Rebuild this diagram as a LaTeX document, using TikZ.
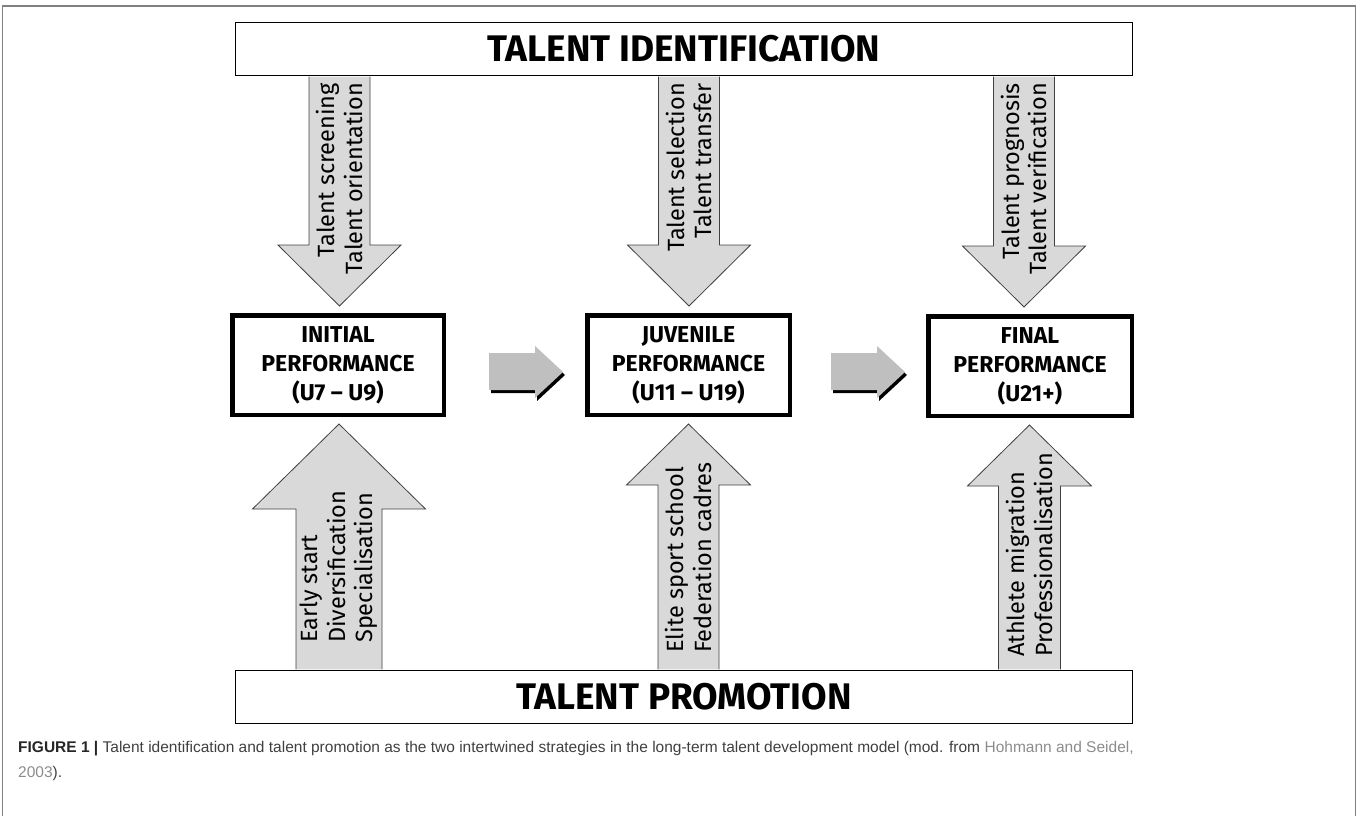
\documentclass[tikz,border=0pt]{standalone}
\usepackage{fontspec}
\setmainfont{Fira Sans}
\newfontfamily\capfont{Liberation Sans}
\usetikzlibrary{positioning, calc}

\definecolor{armgray}{HTML}{D9D9D9}
\definecolor{shiftgray}{HTML}{BFBFBF}
\definecolor{captext}{HTML}{404040}
\definecolor{linkgray}{HTML}{8C8C8C}

% outline of the step arrow between two stages
\newcommand{\shiftpath}{(489,353) -- (535,353) -- (535,346) -- (563,372) -- (535,398) -- (535,390) -- (489,390) -- cycle}

\begin{document}
\begin{tikzpicture}[
        x=1pt, y=-1pt,
        strategy/.style={draw, line width=1.2pt, minimum width=897pt, minimum height=53pt, inner sep=0pt,
            font=\fontsize{37}{37}\selectfont\bfseries},
        stage/.style={draw, line width=4.5pt, minimum height=99.5pt, inner sep=0pt, align=center,
            font=\fontsize{23}{29}\selectfont\bfseries},
        arm/.style={draw=black!75, line width=0.8pt, fill=armgray},
        armtext/.style={rotate=90, inner sep=0pt, font=\fontsize{23.5}{27.5}\selectfont},
        shiftarrow/.style={fill=shiftgray},
    ]

    \useasboundingbox (0,0) rectangle (1358,816);
    \draw[black!50, line width=1.5pt] (2.5,820) |- (1355.5,6) -- (1355.5,820);

    % the two strategies
    \node[strategy] (ident) at (684,49) {TALENT IDENTIFICATION};
    \node[strategy] (promo) at (684,697) {TALENT PROMOTION};

    % the three stages
    \node[stage, minimum width=211.5pt] (init) at (338,365) {INITIAL\\PERFORMANCE\\(U7 – U9)};
    \node[stage, minimum width=202.5pt] (juv) at (688.5,365) {JUVENILE\\PERFORMANCE\\(U11 – U19)};
    \node[stage, minimum width=203.5pt] (fin) at (1030,366) {FINAL\\PERFORMANCE\\(U21+)};

    % identification arrows
    \foreach \c/\s/\txt in {339.5/init/{Talent screening\\Talent orientation},
                            689/juv/{Talent selection\\Talent transfer},
                            1024/fin/{Talent prognosis\\Talent verification}} {
        \coordinate (top) at (\c,0 |- ident.south);
        \coordinate (tip) at ($(\c,0 |- \s.north)+(0,-7)$);
        \filldraw[arm] ($(top)+(-30.5,0.6)$) |- ($(tip)+(-61.5,-61)$) -- (tip)
            -- ($(tip)+(61.5,-61)$) -| ($(top)+(30.5,0.6)$);
        \node[armtext, anchor=east, align=right] at (\c,83) {\txt};
    }

    % promotion arrows
    \foreach \c/\s/\w/\hw/\h/\at/\txt in {339/init/43/86.5/85/643/{Early start\\Diversification\\Specialisation},
                                         688.5/juv/30.5/62/61/653/{Elite sport school\\Federation cadres},
                                         1029.5/fin/31/62/61/657/{Athlete migration\\Professionalisation}} {
        \coordinate (foot) at (\c,0 |- promo.north);
        \coordinate (tip) at ($(\c,0 |- \s.south)+(0,7)$);
        \filldraw[arm] ($(foot)+(-\w,-0.6)$) |- ($(tip)+(-\hw,\h)$) -- (tip)
            -- ($(tip)+(\hw,\h)$) -| ($(foot)+(\w,-0.6)$);
        \node[armtext, anchor=west, align=left] at (\c,\at) {\txt};
    }

    % steps between the stages
    \foreach \d in {0,342} {
        \fill[black, shift={(\d+2,3)}] \shiftpath;
        \fill[shiftarrow, shift={(\d,0)}] \shiftpath;
    }

    \node[anchor=base west, align=left, inner sep=0pt, text=captext,
          font=\capfont\fontsize{15.5}{25}\selectfont] (caption) at (18,777)
        {\textbf{\color{black!85}FIGURE 1 |} Talent identification and talent promotion as the two intertwined strategies in the long-term talent development model (mod. from \textcolor{linkgray}{Hohmann and Seidel,}\\\textcolor{linkgray}{2003}).};
\end{tikzpicture}
\end{document}
